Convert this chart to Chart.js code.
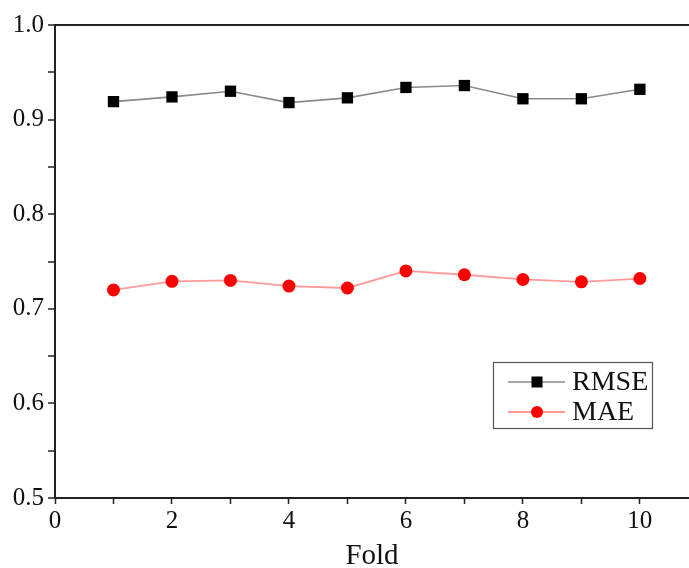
<!DOCTYPE html>
<html>
<head>
<meta charset="utf-8">
<script src="https://cdn.jsdelivr.net/npm/chart.js@4/dist/chart.umd.min.js"></script>
<style>
  html, body { margin: 0; padding: 0; background: #fff; }
  #wrap { width: 689px; height: 568px; position: relative; }
</style>
</head>
<body>
<div id="wrap"><canvas id="chart"></canvas></div>
<script>
// values
const folds = [1, 2, 3, 4, 5, 6, 7, 8, 9, 10];
const rmse = [0.919, 0.924, 0.930, 0.918, 0.923, 0.934, 0.936, 0.922, 0.922, 0.932];
const mae = [0.720, 0.729, 0.730, 0.724, 0.722, 0.740, 0.736, 0.731, 0.7285, 0.732];

const SERIF = "'Liberation Serif', 'Times New Roman', serif";
const AXIS_COLOR = "#222";

// legend box drawn inside the plot, lower right
const boxLegend = {
  id: "boxLegend",
  afterDraw(chart) {
    const ctx = chart.ctx;
    const box = { x: 493, y: 362, w: 159, h: 66 };
    ctx.save();
    ctx.strokeStyle = "#555";
    ctx.lineWidth = 1.2;
    ctx.strokeRect(box.x + 0.5, box.y + 0.5, box.w, box.h);
    chart.data.datasets.forEach((ds, i) => {
      const y = box.y + 20 + i * 30;
      ctx.strokeStyle = ds.borderColor;
      ctx.lineWidth = ds.borderWidth;
      ctx.beginPath();
      ctx.moveTo(box.x + 15, y);
      ctx.lineTo(box.x + 72, y);
      ctx.stroke();
      ctx.fillStyle = ds.pointBackgroundColor;
      if (ds.pointStyle === "rect") {
        ctx.fillRect(box.x + 44 - 5.5, y - 5.5, 11, 11);
      } else {
        ctx.beginPath();
        ctx.arc(box.x + 44, y, 6, 0, Math.PI * 2);
        ctx.fill();
      }
      ctx.fillStyle = "#111";
      ctx.font = "28px " + SERIF;
      ctx.textBaseline = "middle";
      ctx.fillText(ds.label, box.x + 79, y + 1);
    });
    ctx.restore();
  }
};

new Chart(document.getElementById("chart"), {
  type: "line",
  data: {
    labels: folds,
    datasets: [
      {
        label: "RMSE",
        data: folds.map((f, i) => ({ x: f, y: rmse[i] })),
        borderColor: "#8a8a8a",
        borderWidth: 1.6,
        pointStyle: "rect",
        pointRadius: 8,
        pointBackgroundColor: "#000",
        pointBorderColor: "#000",
        pointBorderWidth: 0,
        tension: 0,
      },
      {
        label: "MAE",
        data: folds.map((f, i) => ({ x: f, y: mae[i] })),
        borderColor: "#ff9a9a",
        borderWidth: 1.8,
        pointStyle: "circle",
        pointRadius: 6.5,
        pointBackgroundColor: "#f00",
        pointBorderColor: "#f00",
        pointBorderWidth: 0,
        tension: 0,
      },
    ],
  },
  options: {
    responsive: true,
    maintainAspectRatio: false,
    animation: false,
    layout: { autoPadding: false, padding: { top: 25, left: 0, right: 0, bottom: 0 } },
    plugins: {
      legend: { display: false },
      tooltip: { enabled: false },
    },
    scales: {
      x: {
        type: "linear",
        min: 0,
        max: 10.84,
        afterBuildTicks: (scale) => {
          scale.ticks = scale.ticks.filter(t => Math.abs(t.value - Math.round(t.value)) < 1e-6);
        },
        afterFit: (scale) => { scale.height = 70; scale.paddingRight = 0; },
        ticks: {
          stepSize: 1,
          includeBounds: false,
          autoSkip: false,
          maxRotation: 0,
          padding: 2,
          color: "#111",
          font: { family: SERIF, size: 25 },
          callback: (v) => (Math.round(v) % 2 === 0 ? String(Math.round(v)) : ""),
        },
        grid: {
          drawOnChartArea: false,
          tickLength: 6,
          tickColor: AXIS_COLOR,
          tickWidth: 1.5,
        },
        border: { color: AXIS_COLOR, width: 2 },
        title: {
          display: true,
          text: "Fold",
          color: "#111",
          font: { family: SERIF, size: 29, lineHeight: 0.8 },
          padding: { top: 0, bottom: 0 },
        },
      },
      y: {
        min: 0.5,
        max: 1.0,
        afterFit: (scale) => { scale.width = 55; },
        ticks: {
          stepSize: 0.05,
          autoSkip: false,
          padding: 4,
          color: "#111",
          font: { family: SERIF, size: 25 },
          callback: (v) => {
            const k = Math.round(v * 100);
            return k % 10 === 0 ? (k / 100).toFixed(1) : "";
          },
        },
        grid: {
          color: (c) => (c.tick && Math.abs(c.tick.value - 1) < 1e-6 ? AXIS_COLOR : "rgba(0,0,0,0)"),
          lineWidth: 2,
          tickLength: 7,
          tickColor: AXIS_COLOR,
          tickWidth: 1.5,
        },
        border: { color: AXIS_COLOR, width: 2 },
      },
    },
  },
  plugins: [boxLegend],
});
</script>
</body>
</html>
